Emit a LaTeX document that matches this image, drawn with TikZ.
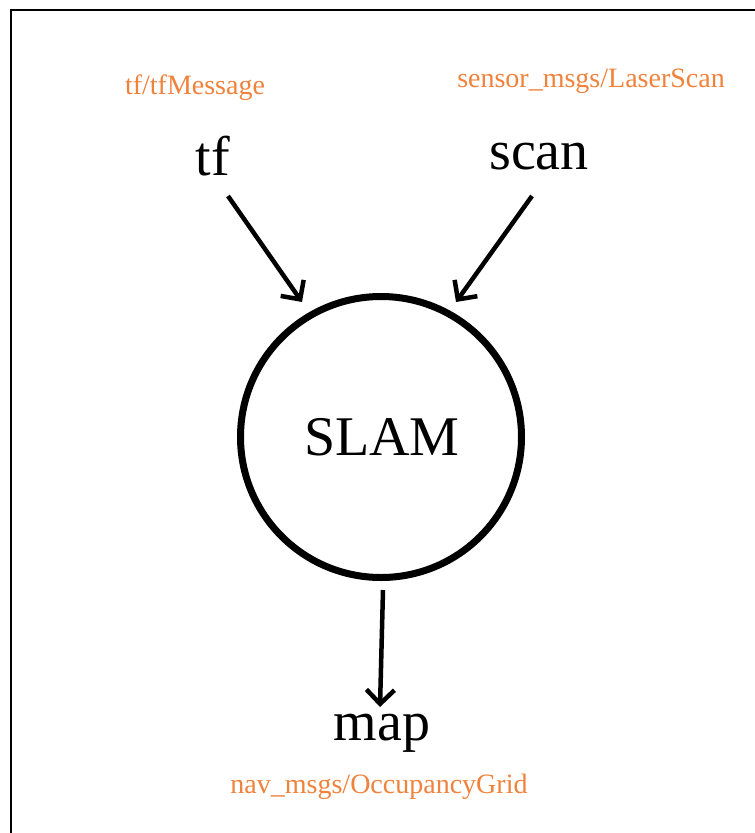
\documentclass[tikz,border=0pt]{standalone}
\usepackage{fontspec}
\setmainfont{Liberation Serif}
\usetikzlibrary{arrows.meta}
\definecolor{rosorange}{RGB}{240,130,60}
\begin{document}
\begin{tikzpicture}[x=1pt,y=-1pt,
  topic/.style={font=\fontsize{56}{60}\selectfont, anchor=base, inner sep=0pt},
  msgtype/.style={font=\fontsize{28}{32}\selectfont, text=rosorange, anchor=base, inner sep=0pt},
  arr/.style={line width=4.5pt, -{Straight Barb[length=14pt,width=28pt,line width=4.5pt]}}
]
\useasboundingbox (0,0) rectangle (755,833);
\fill[white] (0,0) rectangle (755,833);
\draw[line width=2pt] (10.5,833) -- (10.5,9.5) -- (755,9.5);
\node[msgtype] (tftype) at (195,94) {tf/tfMessage};
\node[msgtype] (scantype) at (591,87) {sensor\_msgs/LaserScan};
\node[topic] (tf) at (213,175) {tf};
\node[topic] (scan) at (539,169) {scan};
\node[draw, circle, line width=7pt, minimum size=281pt, inner sep=0pt] (slam) at (381,437) {};
\node[topic] (slamtxt) at (382,455) {SLAM};
\node[topic] (map) at (382,740) {map};
\node[msgtype] (maptype) at (379,793) {nav\_msgs/OccupancyGrid};
\coordinate (tfS) at (228,196);
\coordinate (tfE) at (302,302);
\coordinate (scS) at (532,196);
\coordinate (scE) at (456,302);
\coordinate (mpS) at (383,590);
\coordinate (mpE) at (380,707);
\draw[arr] (tfS) -- (tfE);
\draw[arr] (scS) -- (scE);
\draw[arr] (mpS) -- (mpE);
\end{tikzpicture}
\end{document}
